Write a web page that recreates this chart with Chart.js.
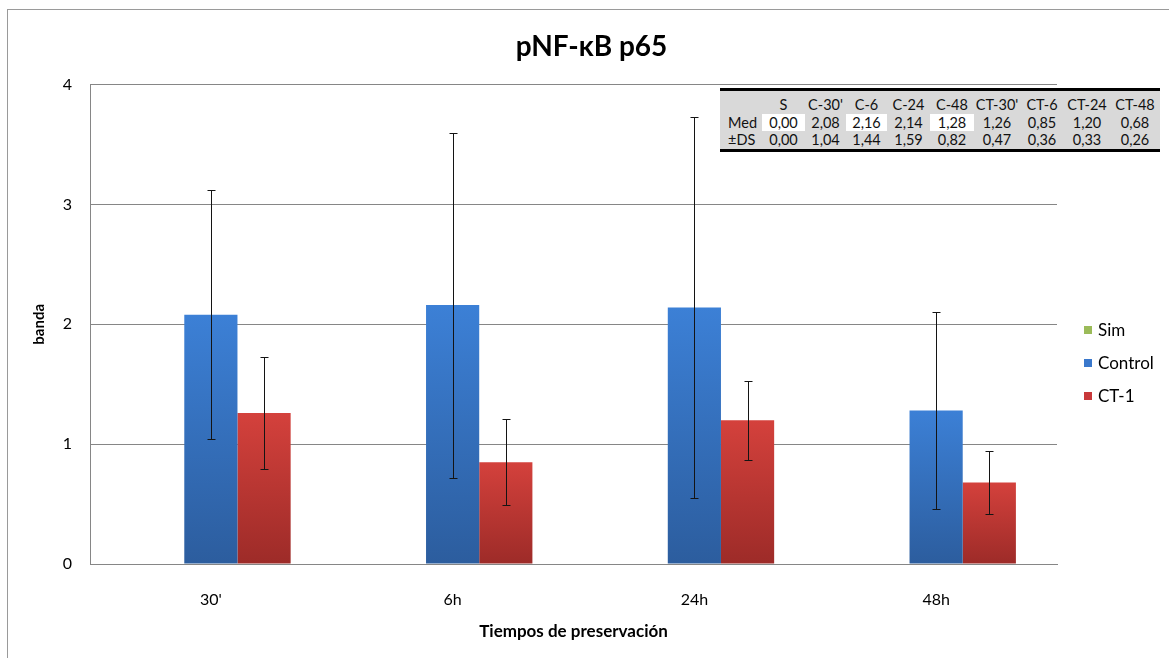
<!DOCTYPE html>
<html>
<head>
<meta charset="utf-8">
<title>pNF-κB p65</title>
<script src="https://cdn.jsdelivr.net/npm/chart.js@4.4.0/dist/chart.umd.min.js"></script>
<style>
  body { margin: 0; background: #fff; font-family: Lato, "Open Sans", sans-serif; }
  #wrap { position: relative; width: 1169px; height: 658px; overflow: hidden; }
  #frame { position: absolute; left: 7px; top: 9px; width: 1200px; height: 700px; border: 1px solid #9a9a9a; }
  canvas { position: absolute; left: 0; top: 0; }
  #stats { position: absolute; left: 720px; top: 88px; width: 440px; border-collapse: collapse;
           table-layout: fixed; background: #d9d9d9; border-top: 3px solid #000; border-bottom: 3px solid #000;
           font-size: 14.5px; color: #111; }
  #stats td { padding: 0; text-align: center; white-space: nowrap; }
  #stats td.lbl { text-align: left; padding-left: 8px; }
  #stats tr.h td { height: 24px; line-height: 18px; padding-top: 5px; box-sizing: border-box; }
  #stats tr.m td { height: 17px; line-height: 17px; }
  #stats tr.d td { height: 19px; line-height: 17px; padding-bottom: 1px; box-sizing: border-box; }
  #stats td.w { background: #fff; }
  #legend { position: absolute; left: 1084px; top: 320px; font-size: 17px; color: #000; }
  #legend div { height: 33px; line-height: 20px; }
  #legend span { display: inline-block; width: 8px; height: 8px; margin-right: 6px; vertical-align: 2px; }
</style>
</head>
<body>
<div id="wrap">
  <div id="frame"></div>
  <canvas id="chart" width="1169" height="658"></canvas>
  <table id="stats"></table>
  <div id="legend"></div>
</div>
<script>
// group means and SD per condition (S, C-30', C-6, C-24, C-48, CT-30', CT-6, CT-24, CT-48)
const grupos = ['S', "C-30'", 'C-6', 'C-24', 'C-48', "CT-30'", 'CT-6', 'CT-24', 'CT-48'];
const medias = [0.00, 2.08, 2.16, 2.14, 1.28, 1.26, 0.85, 1.20, 0.68];
const desvios = [0.00, 1.04, 1.44, 1.59, 0.82, 0.47, 0.36, 0.33, 0.26];

const tiempos = ["30'", '6h', '24h', '48h'];
const simMed = [medias[0], medias[0], medias[0], medias[0]];
const simSd = [desvios[0], desvios[0], desvios[0], desvios[0]];
const controlMed = medias.slice(1, 5);
const controlSd = desvios.slice(1, 5);
const ct1Med = medias.slice(5, 9);
const ct1Sd = desvios.slice(5, 9);

const fontFam = 'Lato, "Open Sans", sans-serif';
const fmt = v => v.toFixed(2).replace('.', ',');

// summary table
const colW = [42, 43, 41, 41, 43, 44, 46, 44, 46, 50];
const whiteCols = [0, 2, 4];
let html = '<colgroup>' + colW.map(w => '<col style="width:' + w + 'px">').join('') + '</colgroup>';
html += '<tr class="h"><td></td>' + grupos.map(g => '<td>' + g + '</td>').join('') + '</tr>';
html += '<tr class="m"><td class="lbl">Med</td>' +
  medias.map((v, i) => '<td' + (whiteCols.includes(i) ? ' class="w"' : '') + '>' + fmt(v) + '</td>').join('') + '</tr>';
html += '<tr class="d"><td class="lbl">±DS</td>' + desvios.map(v => '<td>' + fmt(v) + '</td>').join('') + '</tr>';
document.getElementById('stats').innerHTML = html;

// vertical gradient per bar, lighter at the top
function barFill(top, bottom) {
  return c => {
    const chart = c.chart;
    if (!chart.chartArea || c.type !== 'data') return bottom;
    const y = chart.scales.y;
    const g = chart.ctx.createLinearGradient(0, y.getPixelForValue(c.raw), 0, y.getPixelForValue(0));
    g.addColorStop(0, top);
    g.addColorStop(1, bottom);
    return g;
  };
}

const errorBars = {
  id: 'errorBars',
  afterDatasetsDraw(chart) {
    const { ctx, scales: { y } } = chart;
    ctx.save();
    ctx.strokeStyle = '#141414';
    ctx.lineWidth = 1;
    chart.data.datasets.forEach((ds, i) => {
      chart.getDatasetMeta(i).data.forEach((bar, j) => {
        const sd = ds.sd[j];
        if (!sd) return;
        const x = Math.round(bar.x) + 0.5;
        const yTop = Math.round(y.getPixelForValue(ds.data[j] + sd)) + 0.5;
        const yBot = Math.round(y.getPixelForValue(ds.data[j] - sd)) + 0.5;
        ctx.beginPath();
        ctx.moveTo(x, yTop); ctx.lineTo(x, yBot);
        ctx.moveTo(x - 4, yTop); ctx.lineTo(x + 4, yTop);
        ctx.moveTo(x - 4, yBot); ctx.lineTo(x + 4, yBot);
        ctx.stroke();
      });
    });
    ctx.restore();
  }
};

const series = [
  { label: 'Sim', data: simMed, sd: simSd, color: '#9bbb59', fill: '#9bbb59' },
  { label: 'Control', data: controlMed, sd: controlSd, color: '#3a78cc', fill: barFill('#3c80d6', '#2c5d9e') },
  { label: 'CT-1', data: ct1Med, sd: ct1Sd, color: '#c8383a', fill: barFill('#d4413c', '#9d2b28') }
];

document.getElementById('legend').innerHTML = series
  .map(s => '<div><span style="background:' + s.color + '"></span>' + s.label + '</div>').join('');

const ctx = document.getElementById('chart').getContext('2d');

new Chart(ctx, {
  type: 'bar',
  data: {
    labels: tiempos,
    datasets: series.map(s => ({ label: s.label, data: s.data, sd: s.sd, backgroundColor: s.fill, borderWidth: 0 }))
  },
  options: {
    responsive: false,
    animation: false,
    devicePixelRatio: 1,
    layout: { padding: { left: 14, right: 0, top: 0, bottom: 0 } },
    datasets: { bar: { categoryPercentage: 0.66, barPercentage: 1 } },
    plugins: {
      legend: { display: false },
      tooltip: { enabled: false },
      title: {
        display: true,
        text: 'pNF-κB p65',
        color: '#000',
        font: { family: fontFam, size: 28, weight: 'bold' },
        padding: { top: 30, bottom: 21 }
      }
    },
    scales: {
      x: {
        grid: { display: false },
        border: { display: true, color: '#868686' },
        ticks: { color: '#000', font: { family: fontFam, size: 16 }, padding: 18 },
        title: {
          display: true, text: 'Tiempos de preservación', color: '#000',
          font: { family: fontFam, size: 17, weight: 'bold' }, padding: { top: 0, bottom: 16 }
        },
        afterFit(s) { s.height = 94; }
      },
      y: {
        min: 0, max: 4,
        ticks: { stepSize: 1, color: '#000', font: { family: fontFam, size: 16 }, padding: 18 },
        grid: { color: '#868686', drawTicks: false },
        border: { display: true, color: '#868686' },
        title: {
          display: true, text: 'banda', color: '#000',
          font: { family: fontFam, size: 15, weight: 'bold' }, padding: { top: 16, bottom: 0 }
        },
        afterFit(s) { s.width = 76; }
      },
      // empty axis that keeps room for the legend on the right
      yRight: {
        position: 'right',
        ticks: { display: false },
        grid: { display: false },
        border: { display: false },
        afterFit(s) { s.width = 112; }
      }
    }
  },
  plugins: [errorBars]
});
</script>
</body>
</html>
